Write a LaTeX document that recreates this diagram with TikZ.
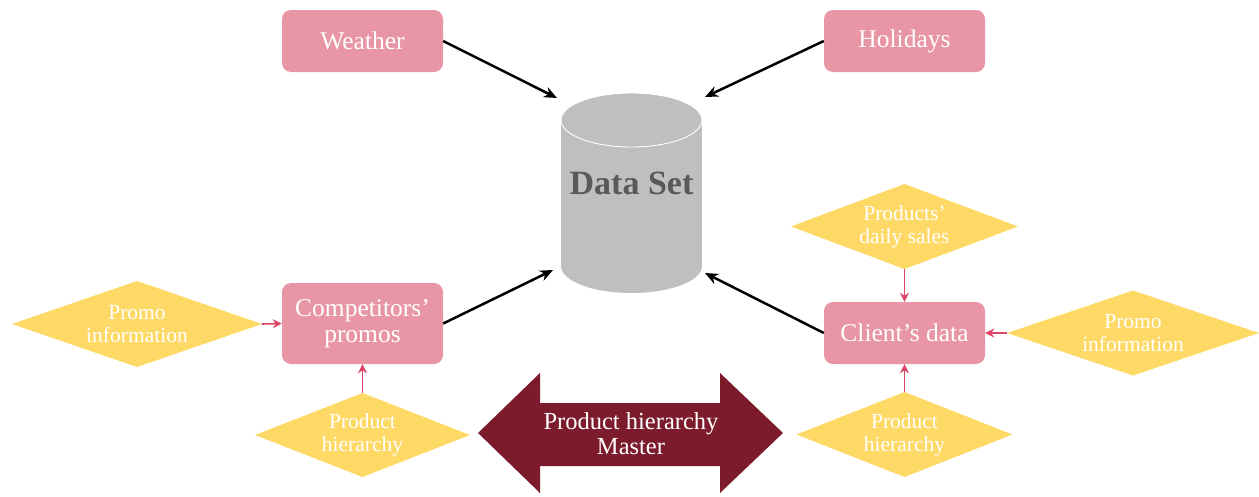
\documentclass[tikz,border=0pt]{standalone}
\usepackage{fontspec}
\setmainfont{Liberation Serif}
\usetikzlibrary{arrows.meta,shapes.geometric}
\definecolor{boxpink}{RGB}{232,150,165}
\definecolor{diayel}{RGB}{255,217,102}
\definecolor{linkpink}{RGB}{222,70,104}
\definecolor{maroonc}{RGB}{123,27,44}
\definecolor{cylgray}{RGB}{191,191,191}
\definecolor{txtgray}{RGB}{89,89,89}
\begin{document}
\begin{tikzpicture}[x=1pt,y=-1pt,
  pbox/.style={rectangle,rounded corners=9pt,fill=boxpink,minimum width=161pt,
    minimum height=62pt,text=white,font=\fontsize{25.5}{26}\selectfont,align=center,inner sep=0pt},
  dia/.style={diamond,fill=diayel,inner sep=0pt,outer sep=0pt},
  diatext/.style={text=white,font=\fontsize{21.5}{23}\selectfont,align=center,inner sep=0pt},
  blk/.style={draw=black,line width=2.5pt,-{Stealth[length=13pt,width=11pt]}},
  pinkarr/.style={draw=linkpink,line width=1.6pt,-{Stealth[length=9pt,width=9pt]}}
]
\useasboundingbox (0,0) rectangle (1259,496);

% cylinder
\fill[cylgray] (561,120) rectangle (702,266);
\fill[cylgray] (631.5,266) ellipse [x radius=70.5, y radius=27];
\fill[cylgray,draw=white,line width=0.9pt] (631.5,120) ellipse [x radius=70.5, y radius=27];
\node[text=txtgray,font=\bfseries\fontsize{34}{36}\selectfont,inner sep=0pt] (ds) at (631.5,183) {Data Set};
\coordinate (dsa) at (557,98);
\coordinate (dsb) at (705,97);
\coordinate (dsc) at (553,270);
\coordinate (dsd) at (705,273);

% boxes
\node[pbox] (weather) at (362.5,41) {Weather};
\node[pbox] (holidays) at (904.5,41) {Holidays};
\node[pbox,minimum height=81pt] (comp) at (362.5,323.5) {Competitors’\\promos};
\node[pbox] (client) at (904.5,333) {Client’s data};

% diamonds
\node[dia,minimum width=250pt,minimum height=86pt,
  label={[diatext]center:Promo\\information}] (pil) at (137,324) {};
\node[dia,minimum width=215pt,minimum height=84pt,
  label={[diatext]center:Product\\hierarchy}] (phl) at (362.5,435) {};
\node[dia,minimum width=227pt,minimum height=85pt,
  label={[diatext]center:Products’\\daily sales}] (pds) at (904.5,226.5) {};
\node[dia,minimum width=252pt,minimum height=85pt,
  label={[diatext]center:Promo\\information}] (pir) at (1133,333) {};
\node[dia,minimum width=216pt,minimum height=85pt,
  label={[diatext]center:Product\\hierarchy}] (phr) at (904.5,434.5) {};

% big double arrow
\fill[maroonc] (478,433) -- (540,373) -- (540,403) -- (720,403) -- (720,373) -- (783,433)
  -- (720,493) -- (720,466) -- (540,466) -- (540,493) -- cycle;
\node[text=white,font=\fontsize{24.5}{25}\selectfont,align=center,inner sep=0pt] (master) at (631,434) {Product hierarchy\\Master};

% black arrows
\draw[blk] (weather.east) -- (dsa);
\draw[blk] (holidays.west) -- (dsb);
\draw[blk] (comp.east) -- (dsc);
\draw[blk] (client.west) -- (dsd);

% pink arrows
\draw[pinkarr] (pil.east) -- (comp.west);
\draw[pinkarr] (phl.north) -- (comp.south);
\draw[pinkarr] (pds.south) -- (client.north);
\draw[pinkarr] (pir.west) -- (client.east);
\draw[pinkarr] (phr.north) -- (client.south);
\end{tikzpicture}
\end{document}
